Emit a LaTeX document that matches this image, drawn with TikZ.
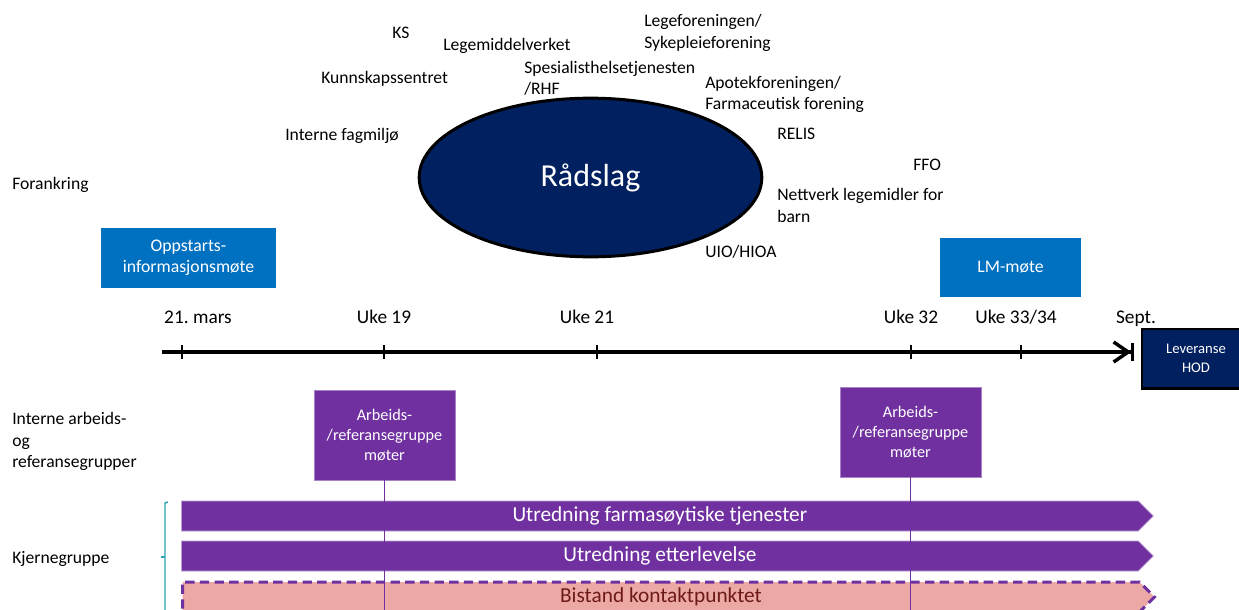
\documentclass[tikz,border=0pt]{standalone}
\usepackage{fontspec}
\setmainfont{Carlito}
\frenchspacing
\usetikzlibrary{arrows.meta,shapes.geometric,shapes.symbols,positioning}
\definecolor{navy}{HTML}{002060}
\definecolor{msblue}{HTML}{0070C0}
\definecolor{mspurple}{HTML}{7030A0}
\definecolor{mspink}{HTML}{EBA8A4}
\definecolor{darkred}{HTML}{6E1A1A}
\definecolor{bracketcol}{HTML}{2AA3B3}

\begin{document}
\begin{tikzpicture}[x=0.75pt,y=-0.75pt,font=\fontsize{13.2}{16}\selectfont]

\tikzset{stakeholder/.style={anchor=west,inner sep=0pt,align=left},
rowlabel/.style={anchor=west,inner sep=0pt,align=left},
datelabel/.style={inner sep=0pt,anchor=base,font=\fontsize{14.5}{16}\selectfont},
bluebox/.style={fill=msblue,text=white,inner sep=0pt,align=center,font=\fontsize{13.3}{16}\selectfont},
purplebox/.style={fill=mspurple,draw=mspurple!60!white,text=white,inner sep=0pt,minimum width=105.75pt,minimum height=67.5pt,align=center,font=\fontsize{12.2}{15}\selectfont},
navybox/.style={fill=navy,draw=black,line width=2pt,text=white,inner sep=0pt,align=center,font=\fontsize{11}{14}\selectfont},
bar/.style={shape=signal,signal to=east,signal pointer angle=90,minimum width=729pt,minimum height=22.5pt,inner sep=0pt,anchor=west,font=\fontsize{16}{18}\selectfont},
tick/.style={line width=1.9pt},
meetline/.style={mspurple,line width=0.8pt}}

\useasboundingbox (0,0) rectangle (1239,610);

% Raadslag
\node[ellipse,fill=navy,draw=black,line width=2.25pt,minimum width=257pt,minimum height=119pt,inner sep=0pt,text=white,font=\fontsize{24}{28}\selectfont] (radslag) at (590.5,177.5) {Rådslag};

% Stakeholders round the ellipse
\node[stakeholder] (ks) at (392,33) {KS};
\node[stakeholder] (lmv) at (443,46) {Legemiddelverket};
\node[stakeholder] (kunn) at (321,79) {Kunnskapssentret};
\node[stakeholder] (spes) at (524,78.5) {Spesialisthelsetjenesten\\/RHF};
\node[stakeholder] (lege) at (644,33) {Legeforeningen/\\Sykepleieforening};
\node[stakeholder] (apotek) at (705,94.5) {Apotekforeningen/\\Farmaceutisk forening};
\node[stakeholder] (relis) at (777,134) {RELIS};
\node[stakeholder] (ffo) at (913,165) {FFO};
\node[stakeholder] (nettverk) at (777,205.5) {Nettverk legemidler for\\barn};
\node[stakeholder] (uio) at (705,252) {UIO/HIOA};
\node[stakeholder] (fagmiljo) at (285,136) {Interne fagmiljø};

% Row labels
\node[rowlabel] (forankring) at (12,185) {Forankring};
\node[rowlabel] (interne) at (12,441.5) {Interne arbeids-\\og\\referansegrupper};
\node[rowlabel] (kjerne) at (12,559) {Kjernegruppe};

% Meetings
\node[bluebox,minimum width=131.25pt,minimum height=45pt] (oppstart) at (188.5,258) {Oppstarts-\\informasjonsmøte};
\node[bluebox,minimum width=105.75pt,minimum height=44.25pt] (lm) at (1010.5,267.5) {LM-møte};

% Axis
\node[navybox,minimum width=81pt,minimum height=44.5pt] (leveranse) at (1196,358.5) {Leveranse\\HOD};
\coordinate (axStart) at (162,352);
\coordinate (axEnd) at (1134,352);
\draw[line width=3pt,-{Straight Barb[length=11pt,width=15pt,line width=2.6pt] Bar[width=13pt,line width=2pt]}] (axStart) -- (axEnd);
\foreach \x/\n/\t in {198/mars/{21. mars},384/u19/{Uke 19},587/u21/{Uke 21},911/u32/{Uke 32},1016/u33/{Uke 33/34},1136/sept/{Sept.}}
  \node[datelabel] (d\n) at (\x,323) {\t};
\foreach \x in {182,384,597,911,1021} \draw[tick] (\x,345) -- (\x,359); % tick marks

% Work and reference group meetings
\node[purplebox] (arb1) at (384.5,435) {Arbeids-\\/referansegruppe\\møter};
\node[purplebox] (arb2) at (910.5,432) {Arbeids-\\/referansegruppe\\møter};

% Core group bars
\node[bar,fill=mspurple,draw=mspurple!45!white,line width=0.6pt,text=white] (farma) at (181,516) {Utredning farmasøytiske tjenester};
\node[bar,fill=mspurple,draw=mspurple!45!white,line width=0.6pt,text=white] (etter) at (181,556) {Utredning etterlevelse};
\node[bar,fill=mspink,draw=mspurple,line width=2.25pt,dash pattern=on 7pt off 4pt,text=darkred] (bistand) at (181,597) {Bistand kontaktpunktet};

% Bracket
\draw[bracketcol,line width=1.1pt] (168,502) -- (165,503) -- (165,612);
\draw[bracketcol,line width=1.1pt] (165,557) -- (161,557);

% Lines down from the meetings
\coordinate (arb1end) at (384.5,612);
\coordinate (arb2end) at (910.5,612);
\draw[meetline] (arb1.south) -- (arb1end);
\draw[meetline] (arb2.south) -- (arb2end);

\end{tikzpicture}
\end{document}
